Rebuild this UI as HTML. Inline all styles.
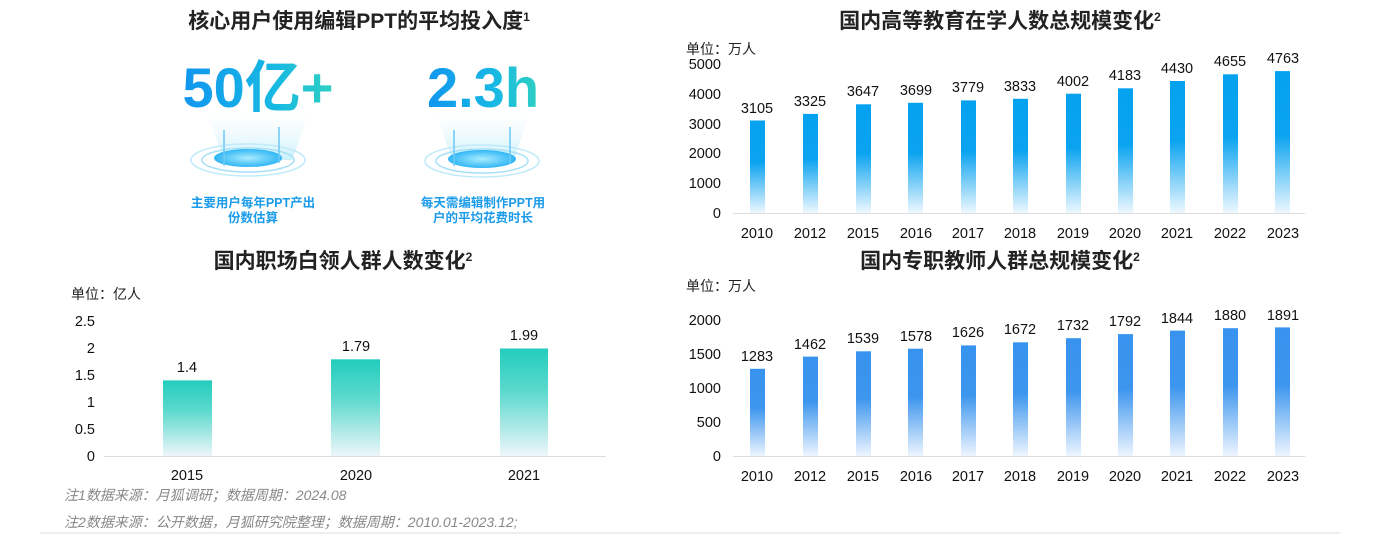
<!DOCTYPE html>
<html><head><meta charset="utf-8"><style>
body{margin:0;background:#fff;}
svg{display:block;font-family:"Liberation Sans","Noto Sans CJK SC",sans-serif;}
</style></head><body>
<svg width="1377" height="534" viewBox="0 0 1377 534" xmlns="http://www.w3.org/2000/svg">
<defs>
<linearGradient id="gB" x1="0" y1="0" x2="0" y2="1"><stop offset="0" stop-color="#05a2f0"/><stop offset="0.45" stop-color="#0aa3f0"/><stop offset="1" stop-color="#eef8ff"/></linearGradient>
<linearGradient id="gC" x1="0" y1="0" x2="0" y2="1"><stop offset="0" stop-color="#3793ee"/><stop offset="0.45" stop-color="#3d96ee"/><stop offset="1" stop-color="#eef5ff"/></linearGradient>
<linearGradient id="gT" x1="0" y1="0" x2="0" y2="1"><stop offset="0" stop-color="#22cdbd"/><stop offset="0.4" stop-color="#5cd9cd"/><stop offset="1" stop-color="#eef6fa"/></linearGradient>
<linearGradient id="gTxt" x1="0" y1="0" x2="1" y2="0"><stop offset="0" stop-color="#1196ef"/><stop offset="0.6" stop-color="#17b8e4"/><stop offset="1" stop-color="#2ed0c2"/></linearGradient>
<linearGradient id="gBeam" x1="0" y1="0" x2="0" y2="1"><stop offset="0" stop-color="#ffffff" stop-opacity="0"/><stop offset="1" stop-color="#c9f0fb"/></linearGradient>
<radialGradient id="gPool" cx="0.5" cy="0.5" r="0.5"><stop offset="0" stop-color="#a8ecff"/><stop offset="1" stop-color="#30b6f5"/></radialGradient>
</defs>

<!-- top-left -->
<text x="359" y="28" text-anchor="middle" font-size="21" font-weight="bold" fill="#222">核心用户使用编辑PPT的平均投入度<tspan font-size="12" dy="-7">1</tspan></text>
<g>
<polygon points="204,105 312,105 292,160 224,160" fill="url(#gBeam)"/>
<ellipse cx="248" cy="160" rx="57" ry="16" fill="none" stroke="#bfeaf9" stroke-width="1.5"/>
<ellipse cx="248" cy="160" rx="46" ry="12" fill="none" stroke="#a6e0f7" stroke-width="1.5"/>
<ellipse cx="248" cy="158" rx="34" ry="9" fill="url(#gPool)"/>
<line x1="224" y1="130" x2="224" y2="166" stroke="#6cc8f2" stroke-width="1.5"/>
<line x1="279" y1="127" x2="279" y2="163" stroke="#6cc8f2" stroke-width="1.5"/>
<text x="258" y="107" text-anchor="middle" font-size="56" font-weight="bold" fill="url(#gTxt)">50亿+</text>
<text x="253" y="207" text-anchor="middle" font-size="12.5" font-weight="bold" fill="#1a9bea">主要用户每年PPT产出</text>
<text x="253" y="222" text-anchor="middle" font-size="12.5" font-weight="bold" fill="#1a9bea">份数估算</text>
</g>
<g>
<polygon points="434,105 532,105 514,160 452,160" fill="url(#gBeam)"/>
<ellipse cx="482" cy="161" rx="57" ry="16" fill="none" stroke="#bfeaf9" stroke-width="1.5"/>
<ellipse cx="482" cy="161" rx="46" ry="12" fill="none" stroke="#a6e0f7" stroke-width="1.5"/>
<ellipse cx="482" cy="159" rx="34" ry="9" fill="url(#gPool)"/>
<line x1="454" y1="130" x2="454" y2="166" stroke="#6cc8f2" stroke-width="1.5"/>
<line x1="510" y1="127" x2="510" y2="164" stroke="#6cc8f2" stroke-width="1.5"/>
<text x="483" y="107" text-anchor="middle" font-size="56" font-weight="bold" fill="url(#gTxt)">2.3h</text>
<text x="483" y="207" text-anchor="middle" font-size="12.5" font-weight="bold" fill="#1a9bea">每天需编辑制作PPT用</text>
<text x="483" y="222" text-anchor="middle" font-size="12.5" font-weight="bold" fill="#1a9bea">户的平均花费时长</text>
</g>

<!-- bottom-left -->
<text x="343" y="268" text-anchor="middle" font-size="21" font-weight="bold" fill="#222">国内职场白领人群人数变化<tspan font-size="12" dy="-7">2</tspan></text>
<text x="71" y="299" font-size="14" fill="#222">单位：亿人</text>
<g font-size="14.5" fill="#111" text-anchor="end">
<text x="95" y="326">2.5</text><text x="95" y="353">2</text><text x="95" y="380">1.5</text><text x="95" y="407">1</text><text x="95" y="434">0.5</text><text x="95" y="461">0</text>
</g>
<line x1="104" y1="456.5" x2="606" y2="456.5" stroke="#ddd"/>
<rect x="163" y="380.4" width="49" height="75.6" fill="url(#gT)"/>
<rect x="331" y="359.3" width="49" height="96.7" fill="url(#gT)"/>
<rect x="500" y="348.5" width="48" height="107.5" fill="url(#gT)"/>
<g font-size="14.5" fill="#111" text-anchor="middle">
<text x="187" y="372">1.4</text><text x="356" y="351">1.79</text><text x="524" y="340">1.99</text>
<text x="187" y="480">2015</text><text x="356" y="480">2020</text><text x="524" y="480">2021</text>
</g>
<g font-size="14" fill="#888" font-style="italic">
<text x="64" y="500">注1数据来源：月狐调研；数据周期：2024.08</text>
<text x="64" y="527">注2数据来源：公开数据，月狐研究院整理；数据周期：2010.01-2023.12;</text>
</g>
<line x1="40" y1="533" x2="1340" y2="533" stroke="#ddd"/>

<!-- top-right -->
<text x="1000" y="28" text-anchor="middle" font-size="21" font-weight="bold" fill="#222">国内高等教育在学人数总规模变化<tspan font-size="12" dy="-7">2</tspan></text>
<text x="686" y="54" font-size="14" fill="#222">单位：万人</text>
<g font-size="14.5" fill="#111" text-anchor="end">
<text x="721" y="69">5000</text><text x="721" y="99">4000</text><text x="721" y="129">3000</text><text x="721" y="158">2000</text><text x="721" y="188">1000</text><text x="721" y="218">0</text>
</g>
<line x1="733" y1="213.5" x2="1305" y2="213.5" stroke="#ddd"/>
<g fill="url(#gB)">
<rect x="750" y="120.5" width="15" height="92.5"/>
<rect x="803" y="113.9" width="15" height="99.1"/>
<rect x="856" y="104.3" width="15" height="108.7"/>
<rect x="908" y="102.8" width="15" height="110.2"/>
<rect x="961" y="100.4" width="15" height="112.6"/>
<rect x="1013" y="98.8" width="15" height="114.2"/>
<rect x="1066" y="93.7" width="15" height="119.3"/>
<rect x="1118" y="88.3" width="15" height="124.7"/>
<rect x="1170" y="81.0" width="15" height="132"/>
<rect x="1223" y="74.3" width="15" height="138.7"/>
<rect x="1275" y="71.1" width="15" height="141.9"/>
</g>
<g font-size="14.5" fill="#111" text-anchor="middle">
<text x="757" y="113">3105</text><text x="810" y="106">3325</text><text x="863" y="96">3647</text><text x="916" y="95">3699</text><text x="968" y="92">3779</text><text x="1020" y="91">3833</text><text x="1073" y="86">4002</text><text x="1125" y="80">4183</text><text x="1177" y="73">4430</text><text x="1230" y="66">4655</text><text x="1283" y="63">4763</text>
</g>
<g font-size="14.5" fill="#111" text-anchor="middle">
<text x="757" y="238">2010</text><text x="810" y="238">2012</text><text x="863" y="238">2015</text><text x="916" y="238">2016</text><text x="968" y="238">2017</text><text x="1020" y="238">2018</text><text x="1073" y="238">2019</text><text x="1125" y="238">2020</text><text x="1177" y="238">2021</text><text x="1230" y="238">2022</text><text x="1283" y="238">2023</text>
</g>

<!-- bottom-right -->
<text x="1000" y="268" text-anchor="middle" font-size="21" font-weight="bold" fill="#222">国内专职教师人群总规模变化<tspan font-size="12" dy="-7">2</tspan></text>
<text x="686" y="291" font-size="14" fill="#222">单位：万人</text>
<g font-size="14.5" fill="#111" text-anchor="end">
<text x="721" y="325">2000</text><text x="721" y="359">1500</text><text x="721" y="393">1000</text><text x="721" y="427">500</text><text x="721" y="461">0</text>
</g>
<line x1="733" y1="456.5" x2="1305" y2="456.5" stroke="#ddd"/>
<g fill="url(#gC)">
<rect x="750" y="368.8" width="15" height="87.2"/>
<rect x="803" y="356.6" width="15" height="99.4"/>
<rect x="856" y="351.3" width="15" height="104.7"/>
<rect x="908" y="348.7" width="15" height="107.3"/>
<rect x="961" y="345.4" width="15" height="110.6"/>
<rect x="1013" y="342.3" width="15" height="113.7"/>
<rect x="1066" y="338.2" width="15" height="117.8"/>
<rect x="1118" y="334.1" width="15" height="121.9"/>
<rect x="1170" y="330.6" width="15" height="125.4"/>
<rect x="1223" y="328.2" width="15" height="127.8"/>
<rect x="1275" y="327.4" width="15" height="128.6"/>
</g>
<g font-size="14.5" fill="#111" text-anchor="middle">
<text x="757" y="361">1283</text><text x="810" y="349">1462</text><text x="863" y="343">1539</text><text x="916" y="341">1578</text><text x="968" y="337">1626</text><text x="1020" y="334">1672</text><text x="1073" y="330">1732</text><text x="1125" y="326">1792</text><text x="1177" y="323">1844</text><text x="1230" y="320">1880</text><text x="1283" y="320">1891</text>
</g>
<g font-size="14.5" fill="#111" text-anchor="middle">
<text x="757" y="481">2010</text><text x="810" y="481">2012</text><text x="863" y="481">2015</text><text x="916" y="481">2016</text><text x="968" y="481">2017</text><text x="1020" y="481">2018</text><text x="1073" y="481">2019</text><text x="1125" y="481">2020</text><text x="1177" y="481">2021</text><text x="1230" y="481">2022</text><text x="1283" y="481">2023</text>
</g>
</svg>
</body></html>
